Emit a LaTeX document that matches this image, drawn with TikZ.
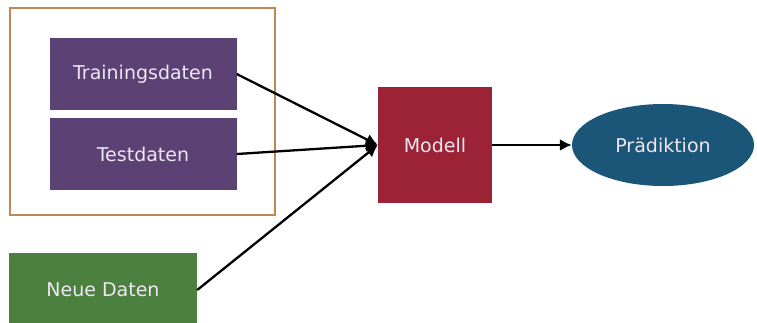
\documentclass[tikz,border=0pt]{standalone}
\usepackage{fontspec}
\setmainfont{DejaVu Sans}
\usetikzlibrary{shapes.geometric,arrows.meta}
\definecolor{framec}{HTML}{C08850}
\definecolor{purp}{HTML}{5C4175}
\definecolor{modc}{HTML}{9C2335}
\definecolor{predc}{HTML}{1B5679}
\definecolor{greenc}{HTML}{4B803E}
\definecolor{txtc}{HTML}{EEE6F2}
\tikzset{
  box/.style={draw=none, inner sep=0pt, text=txtc, font=\fontsize{19}{23}\selectfont},
  conn/.style={line width=2.3pt, black},
  arr/.style={conn, -{Latex[length=12pt,width=12pt]}}
}
\begin{document}
\begin{tikzpicture}[x=1pt,y=-1pt]
\useasboundingbox (0,0) rectangle (757,322);
\fill[white] (0,0) rectangle (757,322);
\node[draw=framec, line width=2pt, minimum width=265pt, minimum height=207pt, inner sep=0pt] (frame) at (142,111.5) {};
\node[box, fill=purp, minimum width=187pt, minimum height=72pt] (train) at (143,74) {Trainingsdaten};
\node[box, fill=purp, minimum width=187pt, minimum height=72pt] (test) at (143,154) {Testdaten};
\node[box, fill=greenc, minimum width=188pt, minimum height=74pt] (neu) at (103,290) {Neue Daten};
\node[box, fill=modc, minimum width=114pt, minimum height=116pt] (mod) at (435,145) {Modell};
\node[box, ellipse, fill=predc, minimum width=182pt, minimum height=82pt] (pred) at (663,145) {Prädiktion};
\draw[arr] (train.east) -- (mod.west);
\draw[arr] (test.east) -- (mod.west);
\draw[arr] (neu.east) -- (mod.west);
\draw[arr] (mod.east) -- (pred.west);
\end{tikzpicture}
\end{document}
